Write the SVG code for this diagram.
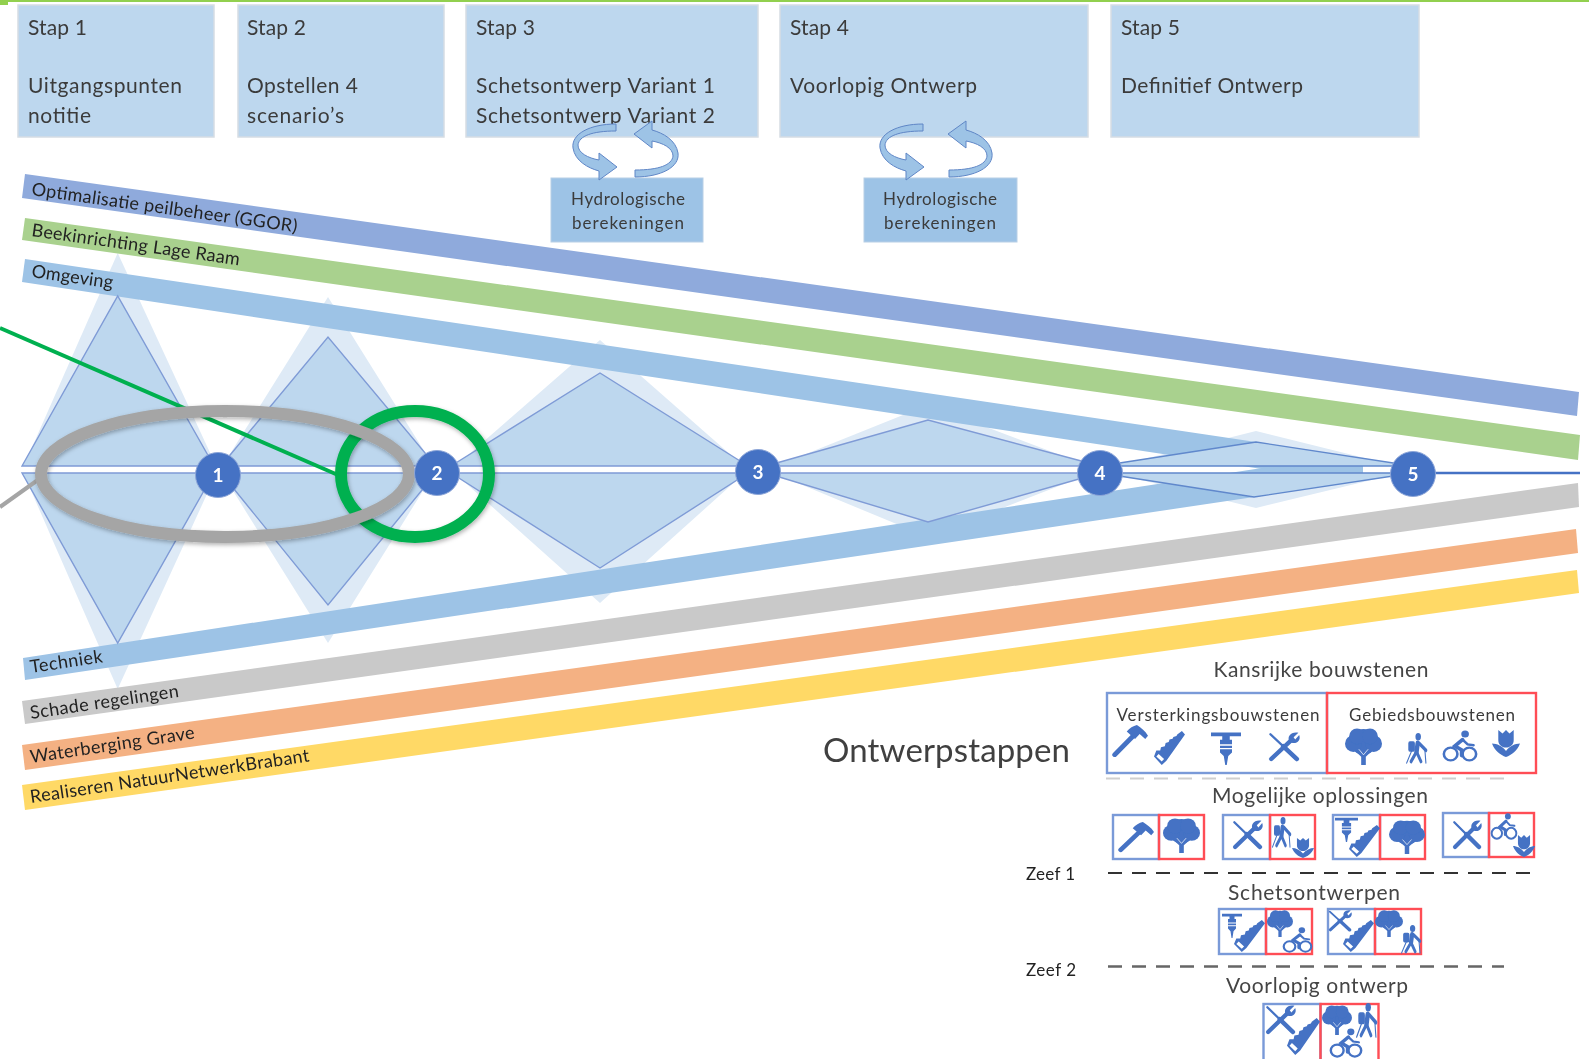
<svg xmlns="http://www.w3.org/2000/svg" xmlns:xlink="http://www.w3.org/1999/xlink" width="1589" height="1059" viewBox="0 0 1589 1059">
<style>
text{font-family:"Lato","Liberation Sans",sans-serif;fill:#3b3b3b}
.st{fill:#bdd7ee;stroke:#d6dde4;stroke-width:1.5}
.t{font-size:21px}
.hb{fill:#9dc3e6;stroke:#b8cfe6;stroke-width:1}
.h{font-size:17px;text-anchor:middle}
.lb{font-size:18px;fill:#222}
.pale{fill:#deeaf6}
.in{fill:#bdd7ee;stroke:#7f9bd6;stroke-width:1.4}
.n{fill:#4472c4;stroke:#8ea6d8;stroke-width:1}
.nt{font-size:19px;font-weight:700;fill:#fff;text-anchor:middle}
.hd{font-size:21px;text-anchor:middle;fill:#444}
.bb{fill:none;stroke:#7a9ad8;stroke-width:2.4}
.rb{fill:none;stroke:#ff4d55;stroke-width:2.4}
.i{fill:#4472c4}
.l{fill:none;stroke:#4472c4;stroke-linecap:round}
.arr{fill:#9dc3e6;stroke:#5f86c6;stroke-width:1}
</style>
<defs>
<filter id="sh" x="-10%" y="-10%" width="120%" height="125%"><feDropShadow dx="1" dy="2" stdDeviation="2" flood-opacity="0.3"/></filter>
<filter id="soft" x="0" y="0" width="100%" height="100%" filterUnits="userSpaceOnUse"><feGaussianBlur stdDeviation="0.5"/></filter>
<symbol id="hammer" viewBox="0 0 40 40" preserveAspectRatio="none" overflow="visible">
<path class="l" stroke-width="5.5" d="M4 36L25 12"/><path class="i" d="M17 8C20 4 24 1 28 0C32 3 37 7 40 13L37 17L31 11L26 17Z"/></symbol>
<symbol id="saw" viewBox="0 0 40 40" preserveAspectRatio="none" overflow="visible">
<path class="i" fill-rule="evenodd" d="M36 0L40 4L16 35L10 40L0 30L3 23L8 23L9 19L14 18L15 14L19 13L20 10L24 9L25 7L29 6L30 4ZM6 27L13 33L10 36L3 30Z"/></symbol>
<symbol id="jack" viewBox="0 0 40 40" preserveAspectRatio="none" overflow="visible">
<path class="i" fill-rule="evenodd" d="M0 4L40 4L40 8L25 8L25 12L28 12L28 26L23 30L21 40L19 40L17 30L12 26L12 12L15 12L15 8L0 8ZM12 17H28V18.500H12ZM12 21H28V22.500H12Z"/></symbol>
<symbol id="tools" viewBox="0 0 40 40" preserveAspectRatio="none" overflow="visible">
<path class="l" stroke-width="3" d="M3 3L18 18"/><path class="l" stroke-width="6" d="M19 19L36 36"/><path class="l" stroke-width="5.5" d="M4 36L29 11"/><path class="i" d="M27 13C23 6 29 -1 38 1L32 7L34 10L39 4C42 12 34 18 27 13Z"/></symbol>
<symbol id="tree" viewBox="0 0 40 40" preserveAspectRatio="none" overflow="visible">
<g class="i"><circle cx="20" cy="15" r="14"/><circle cx="9" cy="17" r="9"/><circle cx="31" cy="17" r="9"/><circle cx="13" cy="9" r="8.500"/><circle cx="27" cy="9" r="8.500"/><path d="M10 24H30L22.500 31V40H17.500V31Z"/></g>
<path d="M20 29L15 23M20 29L25 23" stroke="#fff" fill="none" stroke-width="0.8"/></symbol>
<symbol id="hiker" viewBox="0 0 40 40" preserveAspectRatio="none" overflow="visible">
<circle class="i" cx="24" cy="5" r="5"/><rect class="i" x="6" y="11" width="12" height="14" rx="3"/>
<path class="l" stroke-width="8" d="M23 14L21 25"/><path class="l" stroke-width="5" d="M21 25L29 38M21 25L11 38M26 14L38 23"/><path class="l" stroke-width="2" d="M36 21L38 40M12 24L3 40"/></symbol>
<symbol id="cyclist" viewBox="0 0 40 40" preserveAspectRatio="none" overflow="visible">
<circle class="l" stroke-width="3" cx="9" cy="30" r="8"/><circle class="l" stroke-width="3" cx="31" cy="30" r="8"/><circle class="i" cx="26" cy="5" r="4.500"/>
<path class="l" stroke-width="4.500" d="M23 12L14 20L22 25V32"/><path class="l" stroke-width="3" d="M23 12L29 18L36 19"/></symbol>
<symbol id="tulip" viewBox="0 0 40 40" preserveAspectRatio="none" overflow="visible">
<path class="i" d="M9 0L15 5L20 0L25 5L31 0V15C31 22 25 26 20 26C15 26 9 22 9 15Z"/><path class="i" d="M0 20C7 20 15 24 20 31C25 24 33 20 40 20C36 31 28 37 20 40C12 37 4 31 0 20Z"/></symbol>
<path id="cy" class="arr" d="M616 124C590 124 571 134 573 148C575 161 588 168 599 171L599 180L617 167L599 153L599 160C588 158 578 153 578 145C579 136 592 131 616 131Z"/>
</defs>
<g filter="url(#soft)">
<path d="M0 0H1589V2H8V5H0Z" fill="#92d050"/>

<g id="diamonds-pale">
<polygon class="pale" points="22,470 117.7,253 218,470 117.7,689"/>
<polygon class="pale" points="220,470 328,297 436,470 328,643"/>
<polygon class="pale" points="451,470 600,340 748,470 600,603"/>
<polygon class="pale" points="766,470 928,405 1100,470 928,537"/>
<polygon class="pale" points="1100,470 1256,431 1413,470 1256,508"/>
<rect x="20" y="466" width="1395" height="7" fill="#fff"/>
</g>

<g id="band-optimalisatie"><polygon fill="#8faadc" points="25,174 22,198 1577,416 1579,392"/><text class="lb" transform="translate(31 195) rotate(8)" textLength="268" lengthAdjust="spacing">Optimalisatie peilbeheer (GGOR)</text></g>
<g id="band-beek"><polygon fill="#a9d18e" points="25,218 22,240 1578,460 1580,435"/><text class="lb" transform="translate(31 236) rotate(8)" textLength="210" lengthAdjust="spacing">Beekinrichting Lage Raam</text></g>
<g id="band-omgeving"><polygon fill="#9dc3e6" points="25,259 22,282 1262,469 1363,473 1363,466 1256,442"/><text class="lb" transform="translate(31 277) rotate(8)" textLength="82" lengthAdjust="spacing">Omgeving</text></g>
<g id="band-techniek"><polygon fill="#9dc3e6" points="23,658 25,680 1254,497 1363,473 1363,466 1262,468"/><text class="lb" transform="translate(31 673) rotate(-8.5)" textLength="73" lengthAdjust="spacing">Techniek</text></g>
<g id="band-schade"><polygon fill="#c9c9c9" points="22,701 25,724 1579,507 1578,483"/><text class="lb" transform="translate(31 719) rotate(-8.5)" textLength="150" lengthAdjust="spacing">Schade regelingen</text></g>
<g id="band-waterberging"><polygon fill="#f4b183" points="22,745 25,770 1578,553 1576,529"/><text class="lb" transform="translate(31 763) rotate(-8.5)" textLength="166" lengthAdjust="spacing">Waterberging Grave</text></g>
<g id="band-realiseren"><polygon fill="#ffd966" points="22,785 25,810 1579,593 1577,570"/><text class="lb" transform="translate(31 803) rotate(-8.5)" textLength="282" lengthAdjust="spacing">Realiseren NatuurNetwerkBrabant</text></g>

<g id="diamonds">
<polygon class="in" points="22,466 117.7,296 214,466"/><polygon class="in" points="22,473 117.7,643 214,473"/>
<polygon class="in" points="221,466 328,337 436,466"/><polygon class="in" points="221,473 328,605 436,473"/>
<polygon class="in" points="451,466 600,373 748,466"/><polygon class="in" points="451,473 600,568 748,473"/>
<polygon class="in" points="766,466 928,420 1100,466"/><polygon class="in" points="766,473 928,522 1100,473"/>
<polygon class="in" style="stroke:#6088cc" points="1100,466 1256,442 1413,466"/><polygon class="in" style="stroke:#6088cc" points="1100,473 1254,497 1413,473"/>
</g>

<g id="step1"><rect class="st" x="18" y="5" width="196" height="132"/><text class="t" x="28" y="35" textLength="59">Stap 1</text><text class="t" x="28" y="93" textLength="154">Uitgangspunten</text><text class="t" x="28" y="123" textLength="63">notitie</text></g>
<g id="step2"><rect class="st" x="238" y="5" width="206" height="132"/><text class="t" x="247" y="35" textLength="59">Stap 2</text><text class="t" x="247" y="93" textLength="111">Opstellen 4</text><text class="t" x="247" y="123" textLength="97">scenario’s</text></g>
<g id="step3"><rect class="st" x="466" y="5" width="292" height="132"/><text class="t" x="476" y="35" textLength="59">Stap 3</text><text class="t" x="476" y="93" textLength="239">Schetsontwerp Variant 1</text><text class="t" x="476" y="123" textLength="239">Schetsontwerp Variant 2</text></g>
<g id="step4"><rect class="st" x="780" y="5" width="308" height="132"/><text class="t" x="790" y="35" textLength="59">Stap 4</text><text class="t" x="790" y="93" textLength="187">Voorlopig Ontwerp</text></g>
<g id="step5"><rect class="st" x="1111" y="5" width="308" height="132"/><text class="t" x="1121" y="35" textLength="59">Stap 5</text><text class="t" x="1121" y="93" textLength="182">Definitief Ontwerp</text></g>

<g id="hydro1"><rect class="hb" x="551" y="178" width="152" height="64"/><text class="h" x="628" y="205" textLength="114">Hydrologische</text><text class="h" x="628" y="229" textLength="112">berekeningen</text></g>
<g id="hydro2"><rect class="hb" x="864" y="178" width="153" height="64"/><text class="h" x="940" y="205" textLength="114">Hydrologische</text><text class="h" x="940" y="229" textLength="112">berekeningen</text></g>

<g id="connectors">
<path d="M1413 473H1580" stroke="#4472c4" stroke-width="2.400" fill="none"/>
<use href="#cy"/>
<use href="#cy" transform="rotate(180 625.5 150.5)"/>
<use href="#cy" transform="translate(307 0)"/>
<use href="#cy" transform="translate(314 0) rotate(180 625.5 150.5)"/>
<ellipse cx="415" cy="474" rx="74" ry="63" fill="none" stroke="#00b050" stroke-width="12" filter="url(#sh)"/>
<path d="M0 328L338 475" stroke="#00b050" stroke-width="4" fill="none"/>
<path d="M0 507L42 477" stroke="#a5a5a5" stroke-width="4" fill="none"/>
<ellipse cx="225" cy="474" rx="184" ry="63" fill="none" stroke="#a5a5a5" stroke-width="12" filter="url(#sh)"/>
</g>

<g id="node1"><circle class="n" cx="218" cy="475" r="22.500"/><text class="nt" x="218" y="482">1</text></g>
<g id="node2"><circle class="n" cx="437" cy="473" r="22.500"/><text class="nt" x="437" y="480">2</text></g>
<g id="node3"><circle class="n" cx="758" cy="472" r="22.500"/><text class="nt" x="758" y="479">3</text></g>
<g id="node4"><circle class="n" cx="1100" cy="473" r="22.500"/><text class="nt" x="1100" y="480">4</text></g>
<g id="node5"><circle class="n" cx="1413" cy="474" r="22.500"/><text class="nt" x="1413" y="481">5</text></g>

<g id="title"><text x="823" y="762" font-size="33" style="fill:#3f3f3f" textLength="247">Ontwerpstappen</text></g>

<g id="kansrijke">
<text class="hd" x="1321" y="677" textLength="215">Kansrijke bouwstenen</text>
<rect class="bb" x="1107" y="693" width="220" height="80"/><rect class="rb" x="1327" y="693" width="209" height="80"/>
<text x="1218" y="721" font-size="17" text-anchor="middle" textLength="203">Versterkingsbouwstenen</text>
<text x="1432" y="721" font-size="17" text-anchor="middle" textLength="166">Gebiedsbouwstenen</text>
<use href="#hammer" x="1111" y="725" width="37" height="33"/><use href="#saw" x="1154" y="731" width="31" height="34"/><use href="#jack" x="1211" y="729" width="30" height="36"/><use href="#tools" x="1268" y="732" width="32" height="30"/>
<use href="#tree" x="1345" y="728" width="37" height="37"/><use href="#hiker" x="1405" y="733" width="22" height="30"/><use href="#cyclist" x="1443" y="730" width="34" height="32"/><use href="#tulip" x="1492" y="730" width="28" height="27"/>
<path d="M1106 778.5H1507" stroke="#cfcfcf" stroke-width="2" stroke-dasharray="14 10"/>
</g>

<g id="mogelijke">
<text class="hd" x="1320" y="803" textLength="216">Mogelijke oplossingen</text>
<rect class="bb" x="1113" y="815" width="46" height="44"/><rect class="rb" x="1159" y="815" width="45" height="44"/>
<use href="#hammer" x="1117" y="822" width="37" height="31"/><use href="#tree" x="1163" y="818" width="37" height="35"/>
<rect class="bb" x="1223" y="815" width="47" height="44"/><rect class="rb" x="1270" y="815" width="45" height="44"/>
<use href="#tools" x="1232" y="820" width="31" height="30"/><use href="#hiker" x="1271" y="817" width="20" height="30"/><use href="#tulip" x="1292" y="838" width="22" height="20"/>
<rect class="bb" x="1333" y="815" width="47" height="44"/><rect class="rb" x="1380" y="815" width="45" height="44"/>
<use href="#jack" x="1335" y="815" width="23" height="27"/><use href="#saw" x="1349" y="825" width="31" height="32"/><use href="#tree" x="1389" y="820" width="36" height="34"/>
<rect class="bb" x="1443" y="813" width="46" height="44"/><rect class="rb" x="1489" y="813" width="45" height="44"/>
<use href="#tools" x="1452" y="820" width="30" height="30"/><use href="#cyclist" x="1491" y="813" width="26" height="27"/><use href="#tulip" x="1513" y="835" width="22" height="22"/>
</g>

<g id="zeef1"><text x="1026" y="880" font-size="17" style="fill:#222" textLength="49">Zeef 1</text><path d="M1108 873H1532" stroke="#333" stroke-width="2" stroke-dasharray="14 10"/></g>

<g id="schets">
<text class="hd" x="1314" y="900" textLength="172">Schetsontwerpen</text>
<rect class="bb" x="1219" y="909" width="47" height="45"/><rect class="rb" x="1266" y="909" width="46" height="45"/>
<use href="#jack" x="1222" y="911" width="20" height="27"/><use href="#saw" x="1234" y="920" width="31" height="32"/><use href="#tree" x="1267" y="910" width="26" height="27"/><use href="#cyclist" x="1283" y="927" width="29" height="26"/>
<rect class="bb" x="1328" y="909" width="47" height="45"/><rect class="rb" x="1375" y="909" width="46" height="45"/>
<use href="#tools" x="1328" y="910" width="24" height="22"/><use href="#saw" x="1343" y="920" width="31" height="32"/><use href="#tree" x="1375" y="910" width="28" height="27"/><use href="#hiker" x="1400" y="925" width="21" height="28"/>
</g>

<g id="zeef2"><text x="1026" y="976" font-size="17" style="fill:#222" textLength="50">Zeef 2</text><path d="M1108 966.5H1504" stroke="#666" stroke-width="2.400" stroke-dasharray="14 10"/></g>

<g id="voorlopig">
<text class="hd" x="1317" y="993" textLength="182">Voorlopig ontwerp</text>
<rect class="bb" x="1263.500" y="1004" width="57" height="62"/><rect class="rb" x="1320.500" y="1004" width="58" height="62"/>
<use href="#tools" x="1265" y="1005" width="31" height="30"/><use href="#saw" x="1287" y="1018" width="33" height="37"/><use href="#tree" x="1322" y="1005" width="30" height="30"/><use href="#hiker" x="1355" y="1003" width="22" height="34"/><use href="#cyclist" x="1330" y="1028" width="32" height="30"/>
</g>
</g>
</svg>
